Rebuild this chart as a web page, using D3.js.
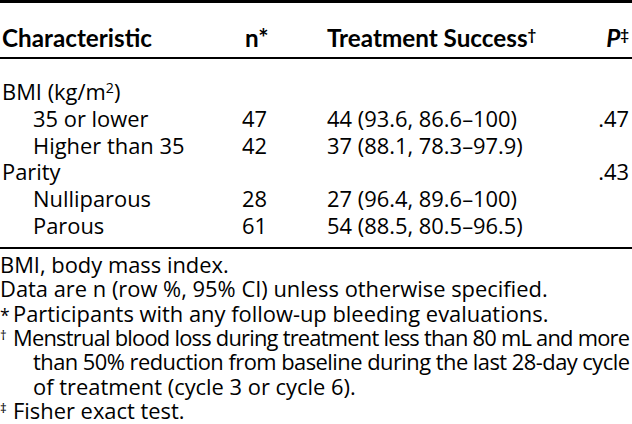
<!DOCTYPE html>
<html>
<head>
<meta charset="utf-8">
<script src="https://cdn.jsdelivr.net/npm/d3@7"></script>
<style>
  body { margin: 0; background: #fff; }
  svg { display: block; }
</style>
</head>
<body>
<div id="table-area"></div>
<script>
const width = 632;
const height = 424;
const bodyFont = "'Open Sans', Lato, sans-serif";
const headFont = "Lato, 'Open Sans', sans-serif";

// table content
const headers = ['Characteristic', 'n', 'Treatment Success', 'P'];
const headerMarks = ['', '*', '†', '‡'];
const rowLabels = ['BMI (kg/m²)', '35 or lower', 'Higher than 35', 'Parity', 'Nulliparous', 'Parous'];
const rowLevel = [0, 1, 1, 0, 1, 1];
const nValues = [null, 47, 42, null, 28, 61];
const successCounts = [null, 44, 37, null, 27, 54];
const successPct = [null, 93.6, 88.1, null, 96.4, 88.5];
const ciLower = [null, 86.6, 78.3, null, 89.6, 80.5];
const ciUpper = [null, 100, 97.9, null, 100, 96.5];
const pValues = [null, '.47', null, '.43', null, null];

const footnoteMarks = ['', '', '*', '†', '', '', '‡'];
const footnoteLines = [
  'BMI, body mass index.',
  'Data are n (row %, 95% CI) unless otherwise specified.',
  'Participants with any follow-up bleeding evaluations.',
  'Menstrual blood loss during treatment less than 80 mL and more',
  'than 50% reduction from baseline during the last 28-day cycle',
  'of treatment (cycle 3 or cycle 6).',
  'Fisher exact test.'
];
const footnoteIndent = [0, 0, 1, 1, 2, 2, 1];
const footnoteJustify = [false, false, false, true, true, false, false];

const svg = d3.select('#table-area').append('svg')
  .attr('width', width)
  .attr('height', height)
  .style('font-family', bodyFont);

// find a font size so a sample string gets the width it has in the picture
function fitSize(sample, target, weight, family) {
  const t = svg.append('text').attr('font-size', 100).attr('font-weight', weight)
    .style('font-family', family).text(sample);
  const w = t.node().getComputedTextLength();
  t.remove();
  return 100 * target / w;
}
const bodySize = fitSize(footnoteLines[1], 548, 400, bodyFont);
const headSize = fitSize('Characteristic', 150, 700, headFont);

const colX = d3.scaleOrdinal().domain(headers).range([2, 242, 327, 629]);
const headX = d3.scaleOrdinal().domain(headers).range([2, 245, 327, 629]);
const rowY = d3.scalePoint().domain(d3.range(rowLabels.length)).range([100, 234]);
const footY = d3.scalePoint().domain(d3.range(footnoteLines.length)).range([273, 419]);
const indent = d3.scaleLinear().domain([0, 1]).range([2, 33]);

// rules
const rules = [{y: 1.5, w: 3}, {y: 58, w: 2}, {y: 248, w: 2.2}];
svg.append('g').selectAll('line').data(rules).join('line')
  .attr('x1', 0).attr('x2', width)
  .attr('y1', d => d.y).attr('y2', d => d.y)
  .attr('stroke', '#000')
  .attr('stroke-width', d => d.w);

// header
function headMarkSize(m) { return m === '*' ? headSize : headSize * 0.62; }
const head = svg.append('g')
  .style('font-family', headFont)
  .attr('font-weight', 700)
  .attr('font-size', headSize);
headers.forEach((h, i) => {
  const t = head.append('text')
    .attr('x', headX(h))
    .attr('y', 47)
    .attr('text-anchor', h === 'P' ? 'end' : 'start');
  t.append('tspan').attr('font-style', h === 'P' ? 'italic' : 'normal').text(h);
  if (headerMarks[i]) {
    t.append('tspan')
      .attr('font-size', headMarkSize(headerMarks[i]))
      .attr('dy', headerMarks[i] === '*' ? 0 : -7)
      .text(headerMarks[i]);
  }
});

// body rows
const body = svg.append('g').attr('font-size', bodySize).attr('fill', '#000');
const fmt = v => (v % 1 === 0 ? String(v) : v.toFixed(1));

rowLabels.forEach((label, i) => {
  const t = body.append('text')
    .attr('x', indent(rowLevel[i]))
    .attr('y', rowY(i));
  const parts = label.split('²');
  t.append('tspan').text(parts[0]);
  if (parts.length > 1) {
    t.append('tspan').attr('font-size', bodySize * 0.65).attr('dy', -7).text('2');
    t.append('tspan').attr('dy', 7).text(parts[1]);
  }
  if (nValues[i] != null) {
    body.append('text').attr('x', colX('n')).attr('y', rowY(i)).text(nValues[i]);
  }
  if (successCounts[i] != null) {
    body.append('text').attr('x', colX('Treatment Success')).attr('y', rowY(i))
      .text(`${successCounts[i]} (${fmt(successPct[i])}, ${fmt(ciLower[i])}–${fmt(ciUpper[i])})`);
  }
  if (pValues[i] != null) {
    body.append('text').attr('x', colX('P')).attr('y', rowY(i))
      .attr('text-anchor', 'end').text(pValues[i]);
  }
});

// footnotes
const foot = svg.append('g').attr('font-size', bodySize).attr('fill', '#000');
footnoteLines.forEach((line, i) => {
  const x = footnoteIndent[i] === 0 ? 0 : footnoteIndent[i] === 1 ? 13 : 33;
  const t = foot.append('text').attr('x', x).attr('y', footY(i)).text(line);
  if (footnoteJustify[i]) {
    t.attr('textLength', 630 - x).attr('lengthAdjust', 'spacing');
  }
  const m = footnoteMarks[i];
  if (m) {
    foot.append('text')
      .attr('x', 0)
      .attr('y', m === '*' ? footY(i) : footY(i) - 6)
      .attr('font-size', m === '*' ? bodySize * 0.8 : bodySize * 0.6)
      .text(m);
  }
});
</script>
</body>
</html>
